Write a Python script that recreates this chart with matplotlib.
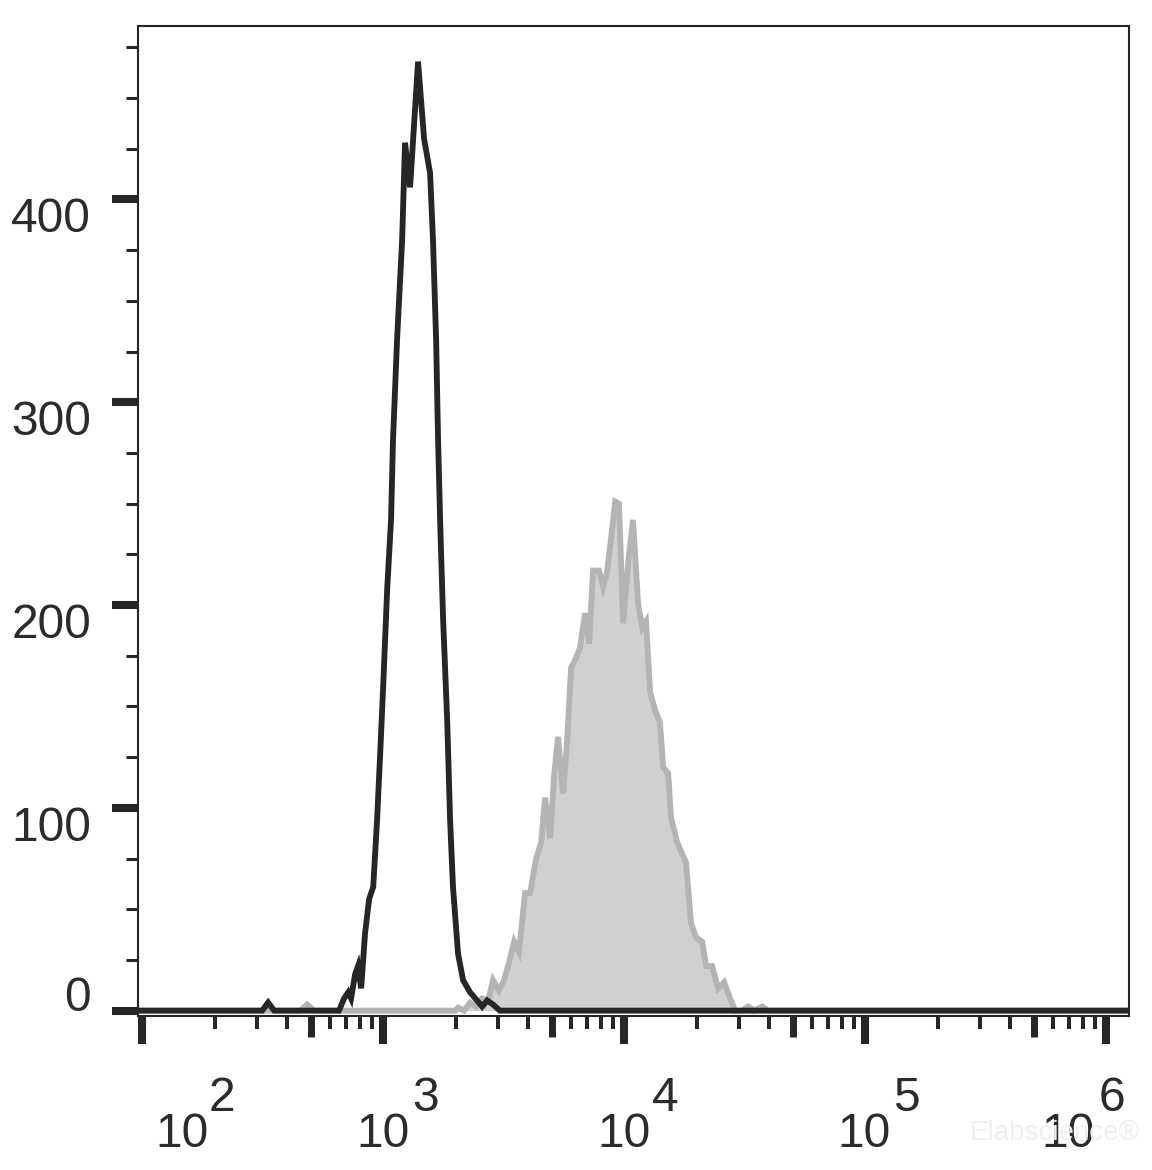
import matplotlib
matplotlib.use("Agg")
import matplotlib.pyplot as plt
import matplotlib.transforms as mtransforms
from matplotlib.ticker import FixedLocator, NullLocator, MultipleLocator, NullFormatter
import numpy as np

plt.rcParams['font.family'] = ['Liberation Sans', 'DejaVu Sans']

# ---------------- data (log10 fluorescence, counts) ----------------
black_log = [1.98, 2.498, 2.523, 2.548, 2.817, 2.838, 2.855, 2.867, 2.884, 2.896,
             2.909, 2.925, 2.942, 2.959, 2.975, 2.988, 3.000, 3.017, 3.033, 3.041,
             3.058, 3.079, 3.091, 3.112, 3.145, 3.170, 3.195, 3.207, 3.220, 3.228,
             3.237, 3.249, 3.266, 3.278, 3.290, 3.311, 3.332, 3.361, 3.390, 3.411,
             3.432, 3.456, 3.485, 6.10]
black_count = [0, 0, 4, 0, 0, 6, 9, 6, 18, 22,
               11, 38, 55, 61, 94, 127, 159, 208, 242, 281,
               331, 380, 428, 406, 468, 430, 413, 380, 331, 282,
               240, 193, 143, 94, 61, 28, 15, 9, 5, 2,
               5, 3, 0, 0]

grey_log = [1.98, 2.656, 2.685, 2.714, 3.300, 3.311, 3.336, 3.361, 3.386, 3.411,
            3.436, 3.456, 3.481, 3.502, 3.523, 3.544, 3.564, 3.589, 3.610, 3.635,
            3.656, 3.672, 3.693, 3.710, 3.726, 3.747, 3.763, 3.780, 3.801, 3.817,
            3.838, 3.855, 3.871, 3.896, 3.913, 3.929, 3.946, 3.963, 3.979, 3.996,
            4.017, 4.037, 4.058, 4.075, 4.091, 4.108, 4.129, 4.149, 4.162, 4.183,
            4.195, 4.220, 4.257, 4.278, 4.299, 4.324, 4.340, 4.365, 4.390, 4.415,
            4.440, 4.461, 4.490, 4.515, 4.539, 4.573, 4.598, 6.10]
grey_count = [0, 0, 3, 0, 0, 1.5, 0, 4, 2, 6,
              5, 15, 10, 15, 24, 34, 29, 58, 58, 75,
              83, 105, 85, 117, 135, 107, 132, 169, 174, 179,
              196, 181, 217, 217, 209, 216, 233, 251, 250, 191,
              221, 242, 201, 189, 192, 157, 148, 142, 120, 117,
              95, 83, 73, 43, 36, 34, 22, 22, 11, 14,
              6, 0, 0, 2, 0, 2, 0, 0]

ytick_vals = [0, 100, 200, 300, 400]
ytick_labels = ['0', '100', '200', '300', '400']
xtick_vals = [1e2, 1e3, 1e4, 1e5, 1e6]
xtick_base = ['10', '10', '10', '10', '10']
xtick_exps = ['2', '3', '4', '5', '6']
x_mid_ticks = [5e2, 5e3, 5e4, 5e5]

# ---------------- style ----------------
INK = '#262626'
TXT = '#2b2b2b'
GREY_FILL = '#d0d0d0'
GREY_LINE = '#b4b4b4'
W, H = 1152, 1170
L, R, T, B = 138, 1129, 25.7, 1015.7

fig = plt.figure(figsize=(W / 100, H / 100), dpi=100)
ax = fig.add_axes([L / W, 1 - B / H, (R - L) / W, (B - T) / H])

gx = 10 ** np.array(grey_log)
bx = 10 ** np.array(black_log)
ax.fill_between(gx, grey_count, 0, color=GREY_FILL, lw=0, zorder=1)
ax.plot(gx, grey_count, color=GREY_LINE, lw=4.2, zorder=2, solid_joinstyle='miter')
ax.plot(bx, black_count, color=INK, lw=4.2, zorder=3, solid_joinstyle='miter')

ax.set_xscale('log')
ax.set_xlim(10 ** 1.983, 10 ** 6.095)
ax.set_ylim(-2.5, 485.7)

for s in ax.spines.values():
    s.set_linewidth(1.5)
    s.set_color(INK)

# x ticks
ax.xaxis.set_major_locator(FixedLocator(xtick_vals))
ax.xaxis.set_minor_locator(mtransforms_loc := matplotlib.ticker.LogLocator(base=10, subs=(2, 3, 4, 6, 7, 8, 9), numticks=50))
ax.xaxis.set_major_formatter(NullFormatter())
ax.xaxis.set_minor_formatter(NullFormatter())
ax.tick_params(axis='x', which='major', direction='out', length=20.2, width=5.8, color=INK, top=False)
ax.tick_params(axis='x', which='minor', direction='out', length=9.4, width=2.9, color=INK, top=False)

sec = ax.secondary_xaxis('bottom')
sec.set_xticks(x_mid_ticks)
sec.xaxis.set_minor_locator(NullLocator())
sec.xaxis.set_major_formatter(NullFormatter())
sec.tick_params(axis='x', which='major', direction='out', length=15.0, width=5.0, color=INK)
sec.tick_params(axis='x', which='minor', bottom=False)
sec.spines['bottom'].set_visible(False)

# y ticks
ax.yaxis.set_major_locator(FixedLocator(ytick_vals))
ax.yaxis.set_minor_locator(MultipleLocator(25))
ax.yaxis.set_major_formatter(NullFormatter())
ax.tick_params(axis='y', which='major', direction='out', length=18.7, width=5.8, color=INK, right=False)
ax.tick_params(axis='y', which='minor', direction='out', length=8.6, width=2.2, color=INK, right=False)

FS = 34.5
# y labels
ylab_dy = [0, -33, -33, -33, -33]
ytrans = mtransforms.blended_transform_factory(ax.transAxes, ax.transData)
for v, lab, dy in zip(ytick_vals, ytick_labels, ylab_dy):
    ax.text(0, v, lab, transform=ytrans + mtransforms.ScaledTranslation(-47 / 100, dy / 100, fig.dpi_scale_trans),
            ha='right', va='baseline', fontsize=FS, color=TXT, clip_on=False)

# watermark
fig.text(970 / W, 1 - 1140 / H, 'Elabscience\u00ae', fontsize=20, color='#f0f0f0', ha='left', va='baseline', zorder=0)

# x labels
base_dx = [67, 27, 27, 26, -11]
exp_dx = [67, 29, 28, 28, -7]
xtrans = mtransforms.blended_transform_factory(ax.transData, ax.transAxes)
for v, b, e, bdx, edx in zip(xtick_vals, xtick_base, xtick_exps, base_dx, exp_dx):
    ax.text(v, 0, b, transform=xtrans + mtransforms.ScaledTranslation(bdx / 100, -131 / 100, fig.dpi_scale_trans),
            ha='right', va='baseline', fontsize=FS, color=TXT, clip_on=False)
    ax.text(v, 0, e, transform=xtrans + mtransforms.ScaledTranslation(edx / 100, -95.3 / 100, fig.dpi_scale_trans),
            ha='left', va='baseline', fontsize=FS, color=TXT, clip_on=False)

fig.savefig('out.png', dpi=100, facecolor='white')
